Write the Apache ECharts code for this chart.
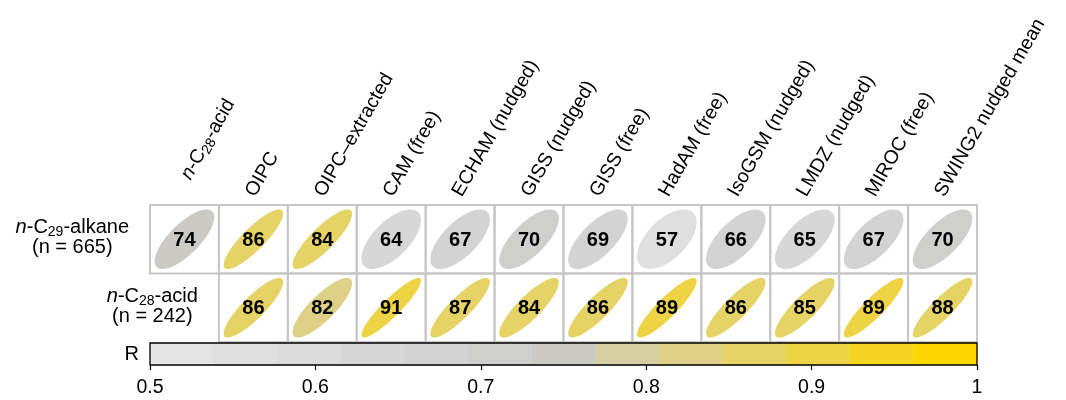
<!DOCTYPE html>
<html><head><meta charset="utf-8">
<script src="https://cdn.jsdelivr.net/npm/echarts@6/dist/echarts.min.js"></script>
<style>html,body{margin:0;padding:0;background:#fff}#c{width:1066px;height:400px}</style>
</head><body><div id="c"></div>
<script>
// ---- data ----
const models = ['n-C28-acid','OIPC','OIPC–extracted','CAM (free)','ECHAM (nudged)','GISS (nudged)','GISS (free)','HadAM (free)','IsoGSM (nudged)','LMDZ (nudged)','MIROC (free)','SWING2 nudged mean'];
const proxyLabels = ['n-C29-alkane\n(n = 665)', 'n-C28-acid\n(n = 242)'];
// correlation R (labels show R x 100, truncated)
const alkaneR = [0.74,0.86,0.848,0.64,0.67,0.70,0.69,0.57,0.66,0.65,0.67,0.70];
const acidR   = [null,0.86,0.82,0.91,0.87,0.848,0.86,0.89,0.86,0.85,0.89,0.88];
const colorTicks = [0.5,0.6,0.7,0.8,0.9,1];
const colorMin = 0.5, colorMax = 1;
const stepColors = ['#e4e4e4','#dfdfdf','#dbdbdb','#d7d7d7','#d3d3d3','#cfcfcd','#cbcac4','#d6cfa6','#dfd088','#e6d366','#eed444','#f6d522','#ffd700'];

// ---- helpers ----
const FONT = "'Liberation Sans', Arial, Helvetica, sans-serif";
function makeRich(size) {
  return {
    it:  {fontStyle:'italic', fontSize:size, fontFamily:FONT, lineHeight:20, fill:'#000', align:'center'},
    t:   {fontSize:size, fontFamily:FONT, lineHeight:20, fill:'#000', align:'center'},
    sub: {fontSize:Math.round(size*0.7), fontFamily:FONT, lineHeight:14, padding:[9,0,0,0], fill:'#000', align:'center'}
  };
}
const RICH_TOP = makeRich(19.5), RICH_ROW = makeRich(20);
function richLine(s) {
  const m = s.match(/^n-C(\d+)-(.*)$/);
  if (m) return '{it|n}{t|-C}{sub|' + m[1] + '}{t|-' + m[2] + '}';
  return '{t|' + s + '}';
}
function richText(s) { return s.split('\n').map(richLine).join('\n'); }
function colorFor(r) {
  const w = (colorMax - colorMin) / stepColors.length;
  let k = Math.floor((r - colorMin) / w + 1e-9);
  k = Math.max(0, Math.min(stepColors.length - 1, k));
  return stepColors[k];
}
const rows = [alkaneR, acidR];
const cells = [];
rows.forEach((arr, ri) => arr.forEach((v, ci) => { if (v != null) cells.push([ci, ri, v]); }));
const rowLabelData = rows.map((arr, ri) => [arr.findIndex(v => v != null), ri]);
const w13 = (colorMax - colorMin) / stepColors.length;
const steps = stepColors.map((c, k) => [colorMin + k * w13, colorMin + (k + 1) * w13, k]);

function renderCell(params, api) {
  const col = api.value(0), row = api.value(1), r = api.value(2);
  const c = api.coord([col, row]);
  const sz = api.size([1, 1]);
  const w = sz[0], h = sz[1];
  const s = 0.435 * Math.min(w, h);
  const d = Math.acos(r);
  const pts = [];
  for (let k = 0; k < 90; k++) {
    const t = k / 90 * 2 * Math.PI;
    pts.push([c[0] + s * Math.cos(t + d / 2), c[1] - s * Math.cos(t - d / 2)]);
  }
  return {type:'group', children:[
    {type:'rect', shape:{x:c[0]-w/2, y:c[1]-h/2, width:w, height:h}, style:{fill:'none', stroke:'#c6c6c6', lineWidth:2}},
    {type:'polygon', shape:{points:pts}, style:{fill:colorFor(r)}},
    {type:'text', x:c[0], y:c[1]+1, style:{text:String(Math.floor(r*100+1e-6)), align:'center', verticalAlign:'middle', fontSize:20, fontWeight:'bold', fontFamily:FONT, fill:'#000'}}
  ]};
}
function renderTop(params, api) {
  const i = api.value(0);
  const c = api.coord([i, 0]);
  const sz = api.size([1, 1]);
  const top = c[1] - sz[1] / 2;
  const lift = i === 0 ? 17 : 0, shift = i === 0 ? 4.3 : 0;
  return {type:'text', x:c[0] - 3 + shift, y:top - 10 - lift, rotation:Math.PI/3,
    style:{text:richText(models[i]), rich:RICH_TOP, align:'left', verticalAlign:'middle', fontSize:19.5, fontFamily:FONT, fill:'#000'}};
}
function renderRowLabel(params, api) {
  const col = api.value(0), row = api.value(1);
  const c = api.coord([col, row]);
  const sz = api.size([1, 1]);
  return {type:'text', x:c[0] - sz[0]/2 - 21, y:c[1] - 1.5,
    style:{text:richText(proxyLabels[row]), rich:RICH_ROW, align:'right', verticalAlign:'middle', fontSize:20, fontFamily:FONT, fill:'#000'}};
}
function renderStep(params, api) {
  const a = api.coord([api.value(0), 0]);
  const b = api.coord([api.value(1), 0]);
  const h = api.size([0, 1])[1];
  return {type:'rect', shape:{x:a[0], y:a[1]-h/2, width:b[0]-a[0], height:h}, style:{fill:stepColors[api.value(2)], stroke:stepColors[api.value(2)], lineWidth:0.5}};
}
function renderFrame(params, api) {
  const a = api.coord([api.value(0), 0]);
  const b = api.coord([api.value(1), 0]);
  const h = api.size([0, 1])[1];
  return {type:'rect', shape:{x:a[0], y:a[1]-h/2, width:b[0]-a[0], height:h}, style:{fill:'none', stroke:'#000', lineWidth:1.3}};
}

const chart = echarts.init(document.getElementById('c'), null, {renderer:'canvas'});
chart.setOption({
  animation:false,
  backgroundColor:'#fff',
  textStyle:{fontFamily:FONT},
  grid:[
    {left:150, top:205, width:827, height:137},
    {left:150, top:343, width:827, height:22}
  ],
  xAxis:[
    {gridIndex:0, type:'category', data:models, show:false},
    {gridIndex:1, type:'value', min:colorMin, max:colorMax, interval:0.1,
     axisLine:{show:false}, splitLine:{show:false},
     axisTick:{show:true, length:5, lineStyle:{color:'#000', width:1.2}},
     axisLabel:{fontSize:19.5, color:'#000', margin:13, fontFamily:FONT}}
  ],
  yAxis:[
    {gridIndex:0, type:'category', data:[0,1], inverse:true, show:false},
    {gridIndex:1, type:'category', data:['R'], axisLine:{show:false}, axisTick:{show:false},
     axisLabel:{fontSize:20, color:'#000', margin:11, fontFamily:FONT}}
  ],
  series:[
    {type:'custom', silent:true, xAxisIndex:0, yAxisIndex:0, data:cells, encode:{x:0, y:1}, renderItem:renderCell},
    {type:'custom', silent:true, xAxisIndex:0, yAxisIndex:0, data:models.map((m,i)=>[i,0]), encode:{x:0, y:1}, renderItem:renderTop},
    {type:'custom', silent:true, xAxisIndex:0, yAxisIndex:0, data:rowLabelData, encode:{x:0, y:1}, renderItem:renderRowLabel},
    {type:'custom', silent:true, xAxisIndex:1, yAxisIndex:1, data:steps, encode:{x:[0,1]}, renderItem:renderStep},
    {type:'custom', silent:true, xAxisIndex:1, yAxisIndex:1, data:[[colorMin, colorMax]], encode:{x:[0,1]}, renderItem:renderFrame}
  ]
});
</script>
</body></html>
